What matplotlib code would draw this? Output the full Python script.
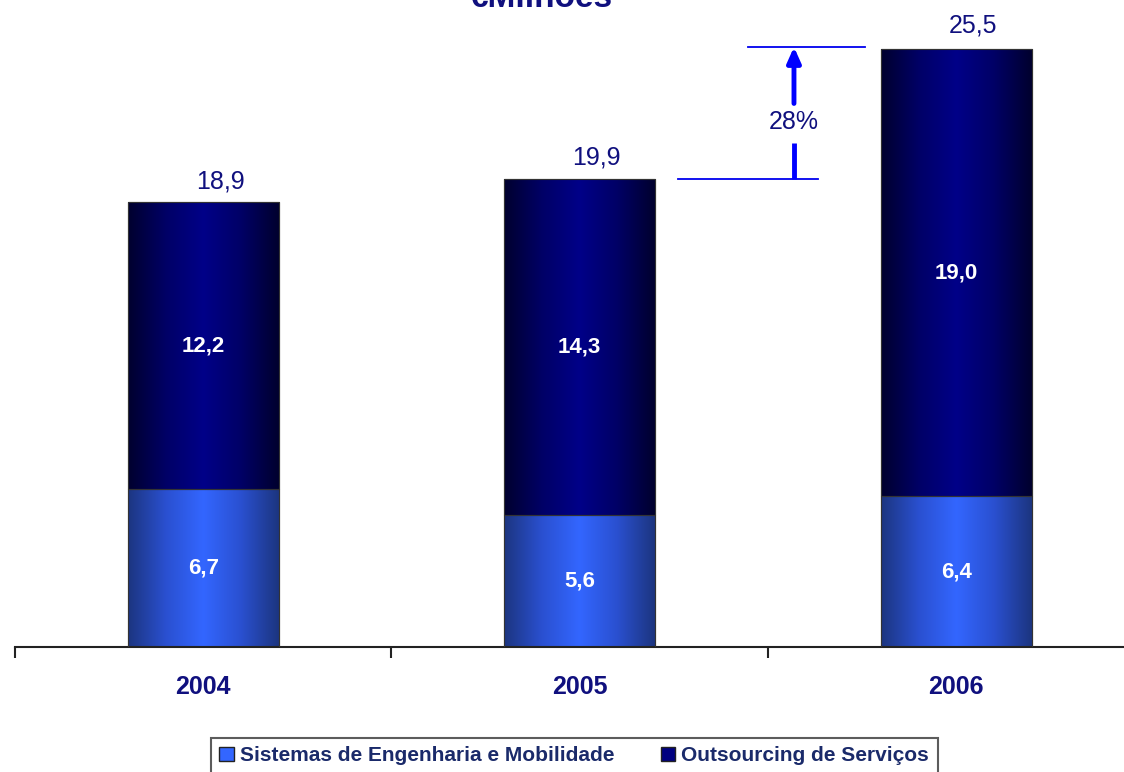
#!/usr/bin/env python3
# Stacked revenue bars (EUR millions) by business line, 2004-2006
import numpy as np
import matplotlib
matplotlib.use("Agg")
import matplotlib.pyplot as plt
from matplotlib.colors import LinearSegmentedColormap
from matplotlib.patches import Patch

# --- Data
years = ["2004", "2005", "2006"]
sistemas = [6.7, 5.6, 6.4]
outsourcing = [12.2, 14.3, 19.0]
totals = [18.9, 19.9, 25.5]
series_names = ["Sistemas de Engenharia e Mobilidade", "Outsourcing de Serviços"]
growth_label = "28%"
title = "€Milhões"

NAVY = "#10107e"
LIGHT = "#3366ff"
DARK = "#000080"

plt.rcParams["font.family"] = ["Liberation Sans", "DejaVu Sans"]

fig = plt.figure(figsize=(11.24, 7.72), dpi=100)
ax = fig.add_axes([15 / 1124, 125 / 772, 1 - 15 / 1124, 647 / 772])

x = np.arange(len(years))
w = 0.40
light_cmap = LinearSegmentedColormap.from_list("lt", ["#1c3580", "#2a50d0", LIGHT, "#2a50d0", "#1c3580"])
dark_cmap = LinearSegmentedColormap.from_list("dk", ["#00002e", "#000066", "#000088", "#000066", "#00002e"])

b1 = ax.bar(x, sistemas, w, color=LIGHT, edgecolor="#444444", linewidth=0.8, zorder=2)
b2 = ax.bar(x, outsourcing, w, bottom=sistemas, color=DARK, edgecolor="#444444", linewidth=0.8, zorder=2)

grad = np.linspace(0, 1, 256).reshape(1, -1)
for bars, cmap in ((b1, light_cmap), (b2, dark_cmap)):
    for p in bars:
        x0, y0 = p.get_x(), p.get_y()
        im = ax.imshow(grad, cmap=cmap, aspect="auto", zorder=2.5,
                       extent=[x0, x0 + p.get_width(), y0, y0 + p.get_height()])
        im.set_clip_path(p)
        # outline on top of the gradient
        ax.add_patch(plt.Rectangle((x0, y0), p.get_width(), p.get_height(), fill=False,
                                   edgecolor="#333333", linewidth=0.8, zorder=3))

for i in range(len(years)):
    ax.text(x[i], sistemas[i] / 2, f"{sistemas[i]:.1f}".replace(".", ","), ha="center", va="center",
            color="white", fontsize=16, fontweight="bold", zorder=4)
    ax.text(x[i], sistemas[i] + outsourcing[i] / 2, f"{outsourcing[i]:.1f}".replace(".", ","),
            ha="center", va="center", color="white", fontsize=16, fontweight="bold", zorder=4)
    ax.text(x[i] + 0.045, totals[i] + 0.9, f"{totals[i]:.1f}".replace(".", ","), ha="center",
            va="center", color=NAVY, fontsize=18, zorder=4)

# growth annotation 2005 -> 2006
ax.plot([1.261, 1.633], [totals[1], totals[1]], color="#0000ee", lw=1.3, zorder=3)
ax.plot([1.447, 1.758], [totals[2], totals[2]], color="#0000ee", lw=1.3, zorder=3)
ax.plot([1.569, 1.569], [totals[1], 21.4], color="#0000ff", lw=3.5, zorder=3, solid_capstyle="butt")
ax.annotate("", xy=(1.569, totals[2]), xytext=(1.569, 23.1),
            arrowprops=dict(arrowstyle="-|>,head_length=0.9,head_width=0.4", color="#0000ff", lw=3.5,
                            shrinkA=0, shrinkB=0))
ax.text(1.569, 22.3, growth_label, ha="center", va="center", color=NAVY, fontsize=18, zorder=4)

for s in ("top", "right", "left"):
    ax.spines[s].set_visible(False)
ax.spines["bottom"].set_linewidth(1.5)
ax.spines["bottom"].set_color("#222222")
ax.set_yticks([])
ax.set_xticks(x)
ax.set_xticklabels(years, fontsize=18, fontweight="bold", color=NAVY)
ax.tick_params(axis="x", which="major", length=0, pad=20)
ax.set_xticks(np.arange(-0.5, 3, 1), minor=True)
ax.tick_params(axis="x", which="minor", length=8, width=1.5, color="#222222", direction="out")
ax.set_xlim(-0.5, -0.5 + (1124 - 15) / 376.5)
ax.set_ylim(0, 647 / 23.53)

fig.text(0.482, 1 - 7 / 772, title, ha="center", va="baseline", fontsize=24, fontweight="bold", color=NAVY)

handles = [Patch(facecolor=LIGHT, edgecolor="#222222", label=series_names[0]),
           Patch(facecolor=DARK, edgecolor="#222222", label=series_names[1])]
leg = fig.legend(handles=handles, loc="upper center", bbox_to_anchor=(0.511, 1 - 738 / 772), ncol=2,
                 frameon=True, fancybox=False, edgecolor="#333333", handlelength=0.7, handleheight=0.7,
                 handletextpad=0.3, columnspacing=2.2, borderpad=0.4, borderaxespad=0,
                 prop=dict(family=["Liberation Sans Narrow", "Liberation Sans"], weight="bold", size=15))
leg.get_frame().set_linewidth(1.5)
for t in leg.get_texts():
    t.set_color("#1a2a6a")

fig.savefig("out.png", dpi=100)
